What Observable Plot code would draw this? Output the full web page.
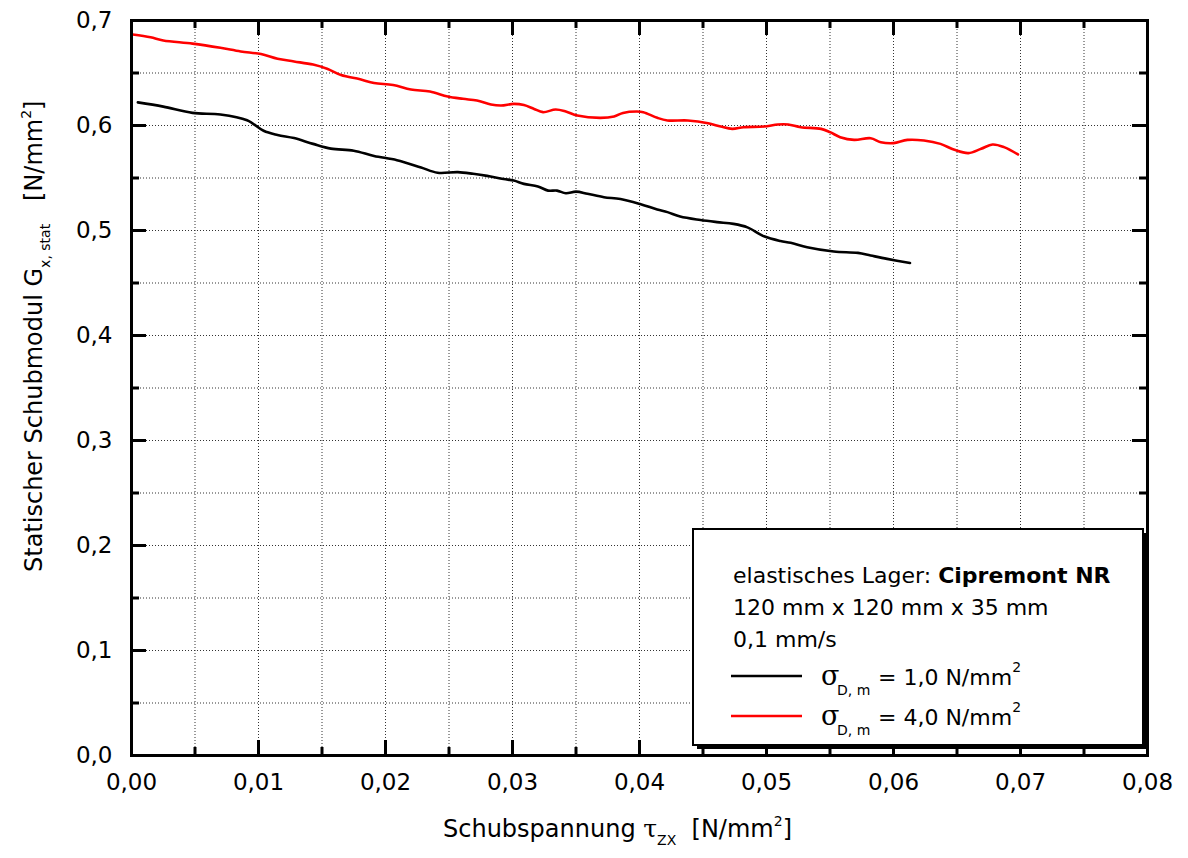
<!DOCTYPE html>
<html><head><meta charset="utf-8">
<script src="https://cdn.jsdelivr.net/npm/d3@7"></script>
<script src="https://cdn.jsdelivr.net/npm/@observablehq/plot@0.6"></script>
<style>body{margin:0;background:#fff} svg text{white-space:pre}</style>
</head><body><div id="chart"></div>
<script>
// ---- data ----
const blackX = [0.0005,0.0025,0.0048,0.0070,0.0091,0.0104,0.0115,0.0128,0.0143,0.0157,0.0175,0.0191,0.0209,0.0228,0.0241,0.0257,0.0269,0.0280,0.0293,0.0301,0.0309,0.0320,0.0328,0.0335,0.0342,0.0350,0.0359,0.0372,0.0385,0.0401,0.0414,0.0422,0.0432,0.0448,0.0461,0.0474,0.0485,0.0498,0.0511,0.0519,0.0532,0.0553,0.0572,0.0582,0.0595,0.0613];
const blackY = [0.622,0.618,0.612,0.6105,0.605,0.595,0.591,0.588,0.5825,0.578,0.576,0.571,0.567,0.560,0.555,0.5556,0.554,0.552,0.549,0.5476,0.5444,0.542,0.538,0.538,0.5355,0.537,0.535,0.5317,0.530,0.525,0.520,0.5175,0.5133,0.510,0.508,0.5063,0.503,0.4945,0.490,0.4883,0.4841,0.480,0.4787,0.4762,0.473,0.469];
const redX = [0.0001,0.0015,0.0025,0.0048,0.0070,0.0086,0.0102,0.0115,0.0128,0.0143,0.0154,0.0165,0.0180,0.0191,0.0206,0.0220,0.0235,0.0249,0.0261,0.0272,0.0283,0.0291,0.0301,0.0309,0.0317,0.0324,0.0334,0.0342,0.0351,0.0369,0.0380,0.0387,0.0398,0.0403,0.0414,0.0422,0.0438,0.0454,0.0464,0.0473,0.0482,0.0498,0.0509,0.0517,0.0527,0.0543,0.0550,0.0558,0.0569,0.0582,0.0590,0.0600,0.0611,0.0624,0.0637,0.0648,0.0659,0.0669,0.0678,0.0687,0.0698];
const redY = [0.6867,0.684,0.681,0.678,0.674,0.6705,0.668,0.6635,0.661,0.658,0.654,0.648,0.644,0.6405,0.6386,0.6343,0.6324,0.6276,0.6254,0.6238,0.620,0.619,0.6206,0.6195,0.6158,0.6127,0.6152,0.6133,0.6095,0.6073,0.6086,0.612,0.6133,0.6127,0.6073,0.6048,0.6048,0.6022,0.599,0.5968,0.5984,0.599,0.601,0.601,0.5984,0.5968,0.5937,0.5889,0.5863,0.5879,0.5841,0.5832,0.5863,0.5857,0.5825,0.5768,0.5737,0.5778,0.5819,0.5794,0.5724];

const xMajor = [0,0.01,0.02,0.03,0.04,0.05,0.06,0.07,0.08];
const xMinor = [0.005,0.015,0.025,0.035,0.045,0.055,0.065,0.075];
const yMajor = [0,0.1,0.2,0.3,0.4,0.5,0.6,0.7];
const yMinor = [0.05,0.15,0.25,0.35,0.45,0.55,0.65];

const seriesLabels = ["1,0", "4,0"];
const seriesColors = ["#000000", "#ff0000"];

const blackData = d3.zip(blackX, blackY).map(([x, y]) => ({x, y}));
const redData = d3.zip(redX, redY).map(([x, y]) => ({x, y}));

// ---- layout ----
const W = 1188, H = 858;
const mt = 20, mr = 41, mb = 103, ml = 131;
const pw = W - ml - mr, ph = H - mt - mb;
const FONT = "'DejaVu Sans', sans-serif";
const majorLen = 15, minorLen = 8;

const gridXVals = [...xMinor, ...xMajor.slice(1, -1)];
const gridYVals = [...yMinor, ...yMajor.slice(1, -1)];
const gridStyle = {stroke: "#333", strokeOpacity: 1, strokeWidth: 1, strokeDasharray: "1,2"};
const tickStyle = {stroke: "black", strokeWidth: 3};

const chart = Plot.plot({
  width: W, height: H,
  marginTop: mt, marginRight: mr, marginBottom: mb, marginLeft: ml,
  x: {domain: [0, 0.08]},
  y: {domain: [0, 0.7]},
  style: {fontFamily: FONT, fontSize: "23px", color: "black", background: "white", overflow: "visible"},
  marks: [
    Plot.gridX(gridXVals, gridStyle),
    Plot.gridY(gridYVals, gridStyle),
    Plot.line(blackData, {x: "x", y: "y", stroke: seriesColors[0], strokeWidth: 2.6, curve: "catmull-rom"}),
    Plot.line(redData, {x: "x", y: "y", stroke: seriesColors[1], strokeWidth: 2.6, curve: "catmull-rom"}),
    Plot.tickX(xMajor, {x: d => d, insetTop: ph - majorLen, ...tickStyle}),
    Plot.tickX(xMajor, {x: d => d, insetBottom: ph - majorLen, ...tickStyle}),
    Plot.tickX(xMinor, {x: d => d, insetTop: ph - minorLen, ...tickStyle}),
    Plot.tickX(xMinor, {x: d => d, insetBottom: ph - minorLen, ...tickStyle}),
    Plot.tickY(yMajor, {y: d => d, insetRight: pw - majorLen, ...tickStyle}),
    Plot.tickY(yMajor, {y: d => d, insetLeft: pw - majorLen, ...tickStyle}),
    Plot.tickY(yMinor, {y: d => d, insetRight: pw - minorLen, ...tickStyle}),
    Plot.tickY(yMinor, {y: d => d, insetLeft: pw - minorLen, ...tickStyle}),
    Plot.axisX(xMajor, {tickSize: 0, tickPadding: 18, label: null, tickFormat: d => d.toFixed(2).replace(".", ",")}),
    Plot.axisY(yMajor, {tickSize: 0, tickPadding: 19, label: null, tickFormat: d => d.toFixed(1).replace(".", ",")}),
    Plot.frame({stroke: "black", strokeWidth: 3})
  ]
});
document.getElementById("chart").appendChild(chart);

// ---- axis titles & legend (rich text with sub/superscripts) ----
const svg = d3.select(chart);
const SUB = 14;

const xl = svg.append("text").attr("x", 443).attr("y", 837).attr("text-anchor", "start")
  .attr("font-family", FONT).attr("font-size", 24).attr("fill", "black");
xl.append("tspan").text("Schubspannung ");
xl.append("tspan").attr("font-family", "'DejaVu Serif', serif").attr("font-size", 25).text("τ");
xl.append("tspan").attr("font-size", SUB).attr("dy", 8).text("ZX");
xl.append("tspan").attr("dy", -8).text("  [N/mm");
xl.append("tspan").attr("font-size", SUB).attr("dy", -11).text("2");
xl.append("tspan").attr("dy", 11).text("]");

const yl = svg.append("text").attr("transform", "translate(42,572) rotate(-90)").attr("text-anchor", "start")
  .attr("font-family", FONT).attr("font-size", 24).attr("fill", "black");
yl.append("tspan").text("Statischer Schubmodul G");
yl.append("tspan").attr("font-size", SUB).attr("dy", 8).text("x, stat");
yl.append("tspan").attr("dy", -8).text("   [N/mm");
yl.append("tspan").attr("font-size", SUB).attr("dy", -11).text("2");
yl.append("tspan").attr("dy", 11).text("]");

// legend box
const lg = svg.append("g").attr("text-anchor", "start");
const bx = 693, by = 529, bw = 450, bh = 216;
lg.append("rect").attr("x", bx + 4).attr("y", by + 4).attr("width", bw).attr("height", bh).attr("fill", "black");
lg.append("rect").attr("x", bx).attr("y", by).attr("width", bw).attr("height", bh)
  .attr("fill", "white").attr("stroke", "black").attr("stroke-width", 2);

const tx = 733;
const t1 = lg.append("text").attr("x", tx).attr("y", 583).attr("font-family", FONT).attr("font-size", 22);
t1.append("tspan").text("elastisches Lager: ");
t1.append("tspan").attr("font-weight", "bold").text("Cipremont NR");
lg.append("text").attr("x", tx).attr("y", 615).attr("font-family", FONT).attr("font-size", 22).text("120 mm x 120 mm x 35 mm");
lg.append("text").attr("x", tx).attr("y", 647).attr("font-family", FONT).attr("font-size", 22).text("0,1 mm/s");

const entries = [{label: seriesLabels[0], color: seriesColors[0], base: 685}, {label: seriesLabels[1], color: seriesColors[1], base: 725}];
entries.forEach(e => {
  lg.append("line").attr("x1", 731).attr("x2", 802).attr("y1", e.base - 9).attr("y2", e.base - 9)
    .attr("stroke", e.color).attr("stroke-width", 2.6);
  const t = lg.append("text").attr("y", e.base).attr("font-family", FONT).attr("font-size", 22);
  t.append("tspan").attr("x", 821).attr("font-family", "'DejaVu Serif', serif").attr("font-size", 27).text("σ");
  t.append("tspan").attr("x", 837).attr("dy", 10).attr("font-size", SUB).text("D, m");
  t.append("tspan").attr("x", 878).attr("dy", -10).text("= " + e.label + " N/mm");
  t.append("tspan").attr("font-size", SUB).attr("dy", -13).text("2");
});
</script>
</body></html>
